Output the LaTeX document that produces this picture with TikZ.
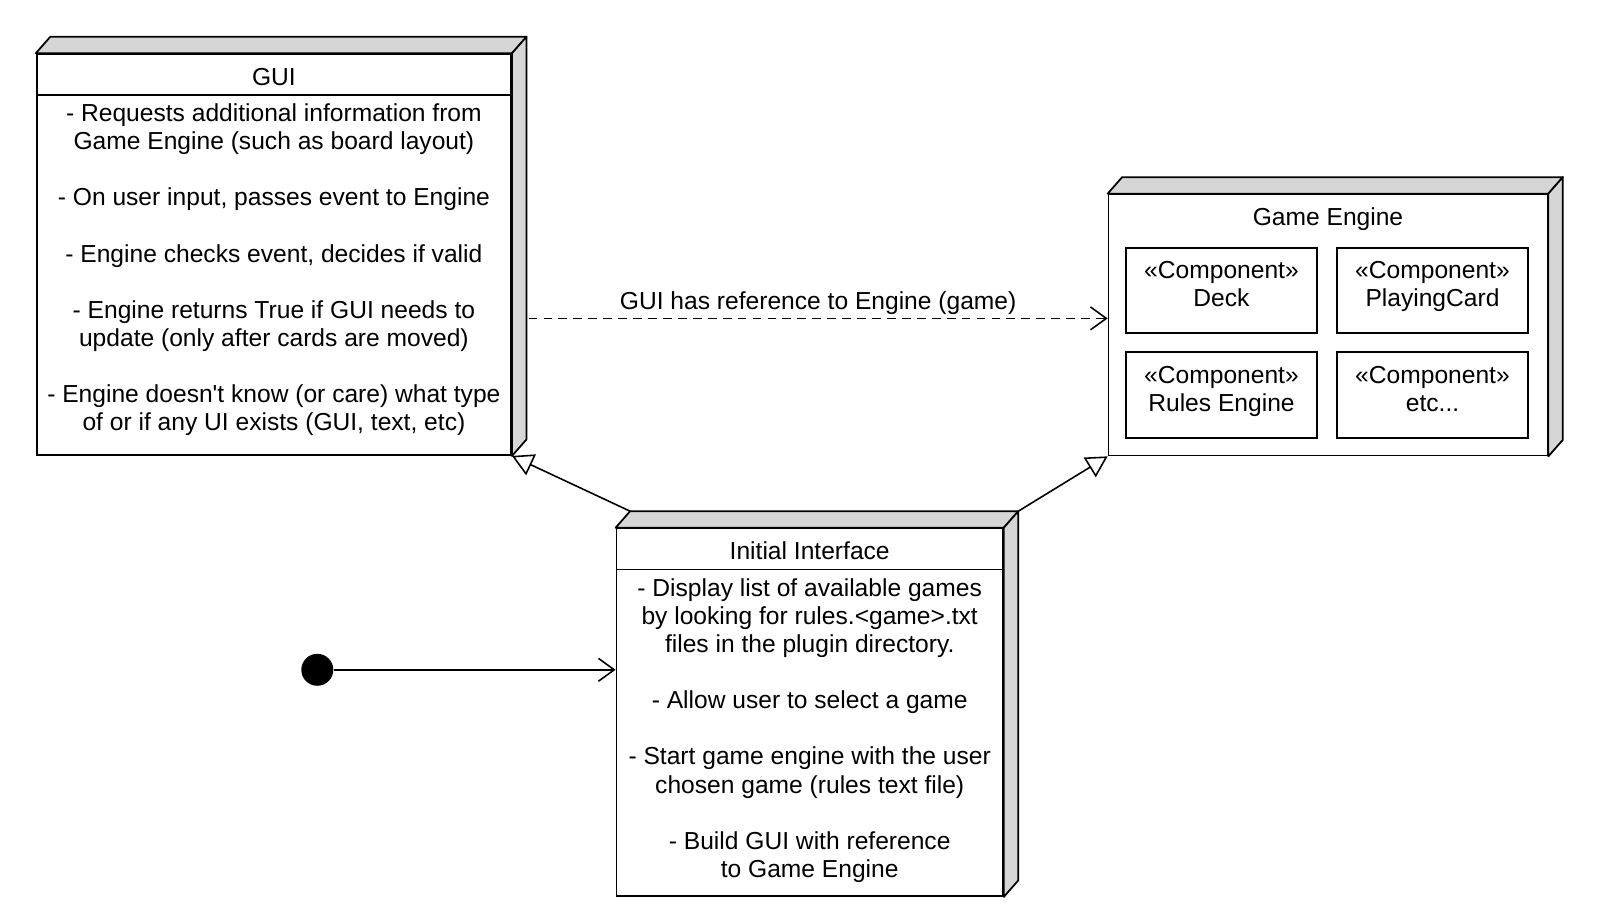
\documentclass[tikz,border=0pt]{standalone}
\usepackage{fontspec}
\setmainfont{Liberation Sans}
\usetikzlibrary{arrows.meta}
\definecolor{mysidecolor}{HTML}{d6d6d6}
\tikzset{
  nodebox/.style={draw, fill=white, rectangle, line width=1pt, inner sep=0pt},
  sidebox/.style={draw, fill=mysidecolor, line width=1pt, line join=round},
  partbox/.style={draw, rectangle, line width=1pt, inner sep=0pt, minimum width=3.83cm, minimum height=1.71cm},
  boxtext/.style={align=center, inner sep=0pt, font=\fontsize{14pt}{16pt}\selectfont},
  parttext/.style={boxtext, text depth=0pt},
  conn/.style={line width=0.9pt},
  gen/.style={conn, -{Triangle[open, fill=white, length=12pt, width=13pt]}},
  dep/.style={conn, dash pattern=on 5pt off 3.5pt, -{Straight Barb[length=9pt, width=13pt]}},
}

\begin{document}
\begin{tikzpicture}[x=0.02cm, y=-0.02cm]%
\useasboundingbox (0,0) rectangle (1600,918);%
\node[nodebox, minimum width=9.49cm, minimum height=8.02cm] (gui) at (273.9,254.6) {};%
\node[nodebox, minimum width=8.78cm, minimum height=5.22cm] (engine) at (1328,325) {};%
\node[nodebox, minimum width=7.73cm, minimum height=7.35cm] (init) at (809.7,712.3) {};%
\foreach \n in {gui, engine, init} {%
  \draw[sidebox] (\n.north west) -- ++(14.5,-16.5) -- ([shift={(14.5,-16.5)}]\n.north east) -- (\n.north east) -- cycle;%
  \draw[sidebox] (\n.north east) -- ([shift={(14.5,-16.5)}]\n.north east) -- ([shift={(14.5,-16.5)}]\n.south east) -- (\n.south east) -- cycle;%
}%
\coordinate (guisep) at (0,94.9);%
\coordinate (initsep) at (0,569.4);%
\draw[line width=1pt] (gui.west |- guisep) -- (gui.east |- guisep);%
\draw[line width=1pt] (init.west |- initsep) -- (init.east |- initsep);%
\node[boxtext] (guititle) at (273.9,76.7) {GUI};%
\node[boxtext] (guibody) at (273.9,269.9) {- Requests additional information from\\Game Engine (such as board layout)\\[16pt]- On user input, passes event to Engine\\[16pt]- Engine checks event, decides if valid\\[16pt]- Engine returns True if GUI needs to\\update (only after cards are moved)\\[16pt]- Engine doesn\textquotesingle t know (or care) what type\\of or if any UI exists (GUI, text, etc)};%
\node[boxtext] (enginetitle) at (1328,218.7) {Game Engine};%
\foreach \name/\x/\y/\txt in {deck/1221.5/290.5/Deck, card/1432.5/290.5/PlayingCard, rules/1221.5/395/Rules Engine, etc/1432.5/395/etc.{}.{}.} {%
  \node[partbox] (\name) at (\x,\y) {};%
  \node[parttext] (\name text) at (\x,\y-6.5) {«Component»\\\txt};%
}%
\node[boxtext] (inittitle) at (809.7,551) {Initial Interface};%
\node[boxtext] (initbody) at (809.7,730.5) {- Display list of available games\\by looking for rules.<game>.txt\\files in the plugin directory.\\[16pt]- Allow user to select a game\\[16pt]- Start game engine with the user\\chosen game (rules text file)\\[16pt]- Build GUI with reference\\to Game Engine};%
\node[circle, fill=black, minimum size=0.64cm, inner sep=0pt] (start) at (317.3,669.8) {};%
\draw[conn, -{Straight Barb[length=9pt, width=13pt]}] (start) -- (init.west |- start);%
\coordinate (dashstart) at (528.6,318.4);%
\draw[dep] (dashstart) -- (dashstart -| engine.west) node[midway, above=1.7pt, boxtext] (deplabel) {GUI has reference to Engine (game)};%
\draw[gen] ([shift={(14.5,-16.5)}]init.north west) -- (gui.south east);%
\draw[gen] ([shift={(14.5,-16.5)}]init.north east) -- (engine.south west);%
\end{tikzpicture}
\end{document}
